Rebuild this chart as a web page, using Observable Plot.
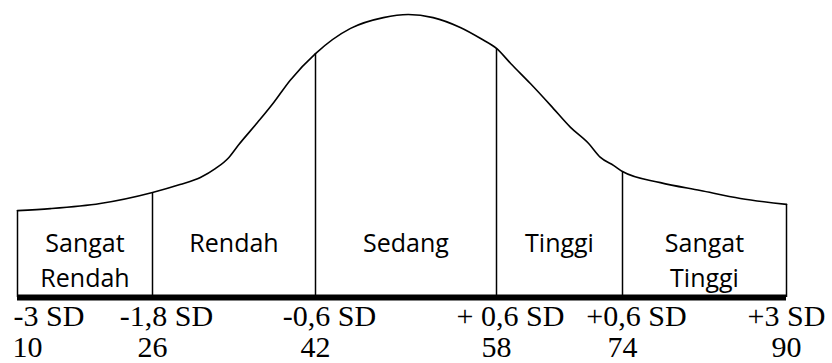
<!DOCTYPE html>
<html>
<head>
<meta charset="utf-8">
<script src="https://cdn.jsdelivr.net/npm/d3@7"></script>
<script src="https://cdn.jsdelivr.net/npm/@observablehq/plot@0.6"></script>
<style>
  html, body { margin: 0; padding: 0; background: #fff; }
  svg { display: block; }
</style>
</head>
<body>
<div id="chart"></div>
<script>
// Boundary scores and their SD labels
const scores = [10, 26, 42, 58, 74, 90];
const sdLabels = ["-3 SD", "-1,8 SD", "-0,6 SD", "+ 0,6 SD", "+0,6 SD", "+3 SD"];
const categories = ["Sangat\nRendah", "Rendah", "Sedang", "Tinggi", "Sangat\nTinggi"];

// Hand-drawn bell curve (score, relative height)
const curveX = [10, 13.9, 19.8, 26, 28.7, 30.7, 32.2, 33.5, 34.4, 36.3, 37.9, 39.5, 42, 45.1, 48.0, 50.2, 52.4, 54.8, 56.6, 58, 59.8, 62.3, 64.9, 67.4, 69.7, 71.2, 72.9, 74, 77.7, 81.6, 85.5, 90];
const curveY = [30.7, 31.4, 33.2, 37.1, 39.9, 42.4, 45.6, 49.5, 53.7, 61.8, 68.9, 76.7, 86.2, 95.1, 98.9, 100, 98.9, 95.4, 91.5, 88.0, 82.7, 75.6, 67.8, 60.1, 54.4, 49.5, 46.6, 44.5, 40.6, 37.8, 35.0, 32.9];

const curve = curveX.map((x, i) => ({x, y: curveY[i]}));
const heightAt = s => curve.find(d => d.x === s).y;
const bounds = scores.map((s, i) => ({score: s, label: sdLabels[i], top: heightAt(s)}));
const cats = categories.map((c, i) => ({name: c, mid: (scores[i] + scores[i + 1]) / 2}));

const serif = "'Liberation Serif', 'Times New Roman', serif";
const sans = "'Open Sans', 'Noto Sans', sans-serif";

const chart = Plot.plot({
  width: 832,
  height: 363,
  margin: 0,
  x: {type: "linear", domain: scores, range: [17, 152, 315, 496, 622, 786], axis: null},
  y: {domain: [0, 100], range: [297, 14], axis: null},
  marks: [
    Plot.line(curve, {x: "x", y: "y", curve: "monotone-x", stroke: "#000", strokeWidth: 1.6}),
    Plot.ruleX(bounds, {x: "score", y1: 0, y2: "top", stroke: "#000", strokeWidth: 1.5}),
    Plot.ruleY([0], {x1: scores[0], x2: scores[scores.length - 1], stroke: "#000", strokeWidth: 6}),
    Plot.text(cats, {x: "mid", y: 0, text: "name", lineAnchor: "top", lineHeight: 1.4, dy: -70,
      fontFamily: sans, fontSize: 25, fill: "#000"}),
    // SD labels
    Plot.text(bounds, {filter: (d, i) => i === 0, x: "score", y: 0, text: "label", textAnchor: "start",
      lineAnchor: "bottom", dx: -4, dy: 28, fontFamily: serif, fontSize: 30, fill: "#000"}),
    Plot.text(bounds, {filter: (d, i) => i > 0 && i < 5, x: "score", y: 0, text: "label",
      lineAnchor: "bottom", dx: 14, dy: 28, fontFamily: serif, fontSize: 30, fill: "#000"}),
    Plot.text(bounds, {filter: (d, i) => i === 5, x: "score", y: 0, text: "label",
      lineAnchor: "bottom", dx: 0, dy: 28, fontFamily: serif, fontSize: 30, fill: "#000"}),
    // score values
    Plot.text(bounds, {filter: (d, i) => i === 0, x: "score", y: 0, text: d => String(d.score), textAnchor: "start",
      lineAnchor: "bottom", dx: -5, dy: 59, fontFamily: serif, fontSize: 30, fill: "#000"}),
    Plot.text(bounds, {filter: (d, i) => i > 0, x: "score", y: 0, text: d => String(d.score),
      lineAnchor: "bottom", dy: 59, fontFamily: serif, fontSize: 30, fill: "#000"})
  ]
});
document.getElementById("chart").appendChild(chart);
</script>
</body>
</html>
